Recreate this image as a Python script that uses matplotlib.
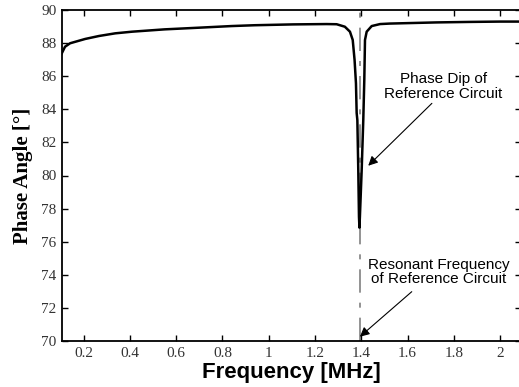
import matplotlib
matplotlib.use("Agg")
import matplotlib.pyplot as plt

freq_mhz = [0.105, 0.12, 0.142, 0.207, 0.267, 0.337, 0.41, 0.55, 0.697, 0.84, 0.94,
            1.105, 1.25, 1.2935, 1.329, 1.351, 1.363, 1.371, 1.377, 1.380, 1.383,
            1.387, 1.390, 1.392, 1.394, 1.4017, 1.4086, 1.413, 1.416, 1.4233,
            1.445, 1.481, 1.523, 1.58, 1.725, 1.87, 2.0, 2.09]
phase_deg = [87.35, 87.78, 87.99, 88.25, 88.43, 88.59, 88.69, 88.83, 88.93, 89.03, 89.08,
             89.13, 89.15, 89.14, 88.99, 88.69, 88.19, 86.98, 85.57, 83.78, 83.35,
             80.33, 77.51, 76.85, 77.51, 80.33, 83.35, 85.77, 88.19, 88.69,
             89.03, 89.15, 89.18, 89.2, 89.25, 89.28, 89.3, 89.3]

resonant_freq = 1.393
x_ticks = [0.2, 0.4, 0.6, 0.8, 1.0, 1.2, 1.4, 1.6, 1.8, 2.0]
x_tick_labels = ["0.2", "0.4", "0.6", "0.8", "1", "1.2", "1.4", "1.6", "1.8", "2"]
y_ticks = [70, 72, 74, 76, 78, 80, 82, 84, 86, 88, 90]

fig = plt.figure(figsize=(5.19, 3.87), dpi=100)
ax = fig.add_axes([62 / 519, 1 - 341 / 387, (521 - 62) / 519, (341 - 10) / 387])

ax.axvline(resonant_freq, color="#808080", lw=1.2, dashes=(14, 6, 3, 6), zorder=1)
ax.plot(freq_mhz, phase_deg, color="black", lw=1.8, zorder=2)

ax.set_xlim(0.107, 2.09)
ax.set_ylim(70, 90)
ax.set_xticks(x_ticks)
ax.set_xticklabels(x_tick_labels)
ax.set_yticks(y_ticks)
ax.tick_params(direction="in", length=4, width=1, top=True, right=True,
               labelsize=11, labelcolor="#333333", pad=4)
for lab in ax.get_xticklabels() + ax.get_yticklabels():
    lab.set_family("Liberation Serif")
for s in ax.spines.values():
    s.set_linewidth(1.3)

ax.set_xlabel("Frequency [MHz]", family="Liberation Sans", fontweight="bold",
              fontsize=16, labelpad=2)
ax.set_ylabel("Phase Angle [°]", family="Liberation Serif", fontweight="bold",
              fontsize=15, labelpad=6)

arrow_kw = dict(arrowstyle="-|>", color="black", lw=0.8, mutation_scale=14,
                shrinkA=0, shrinkB=0)

ax.text(1.754, 85.38, "Phase Dip of\nReference Circuit", family="Liberation Sans",
        fontsize=11, ha="center", va="center", linespacing=1.05)
ax.annotate("", xy=(1.430, 80.59), xytext=(1.705, 84.36), arrowprops=arrow_kw)

ax.text(1.736, 74.14, "Resonant Frequency\nof Reference Circuit", family="Liberation Sans",
        fontsize=11, ha="center", va="center", linespacing=1.0)
ax.annotate("", xy=(1.394, 70.26), xytext=(1.618, 72.98), arrowprops=arrow_kw)

fig.savefig("out.png", dpi=100)
